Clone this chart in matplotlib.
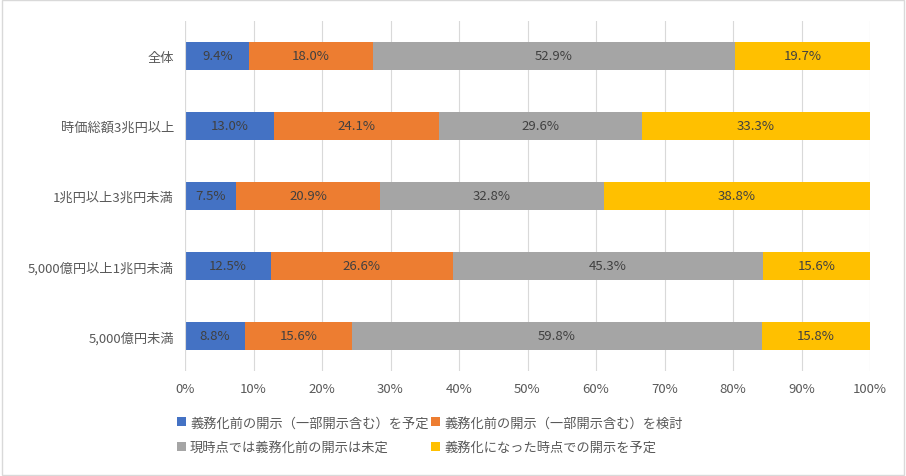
import numpy as np
import matplotlib.pyplot as plt

plt.rcParams["font.family"] = "Noto Sans CJK JP"

categories = ["全体", "時価総額3兆円以上", "1兆円以上3兆円未満", "5,000億円以上1兆円未満", "5,000億円未満"]
series_names = ["義務化前の開示（一部開示含む）を予定", "義務化前の開示（一部開示含む）を検討",
                "現時点では義務化前の開示は未定", "義務化になった時点での開示を予定"]
values = [
    [9.4, 13.0, 7.5, 12.5, 8.8],
    [18.0, 24.1, 20.9, 26.6, 15.6],
    [52.9, 29.6, 32.8, 45.3, 59.8],
    [19.7, 33.3, 38.8, 15.6, 15.8],
]
colors = ["#4472C4", "#ED7D31", "#A5A5A5", "#FFC000"]

fig = plt.figure(figsize=(9.06, 4.77), dpi=100)
ax = fig.add_axes([185 / 906, 1 - 372 / 477, 685 / 906, 350 / 477])
y = np.arange(len(categories))
left = np.zeros(len(categories))
for name, vals, c in zip(series_names, values, colors):
    vals = np.array(vals)
    ax.barh(y, vals / 100, left=left, height=0.4, color=c, label=name)
    for yi, l, v in zip(y, left, vals):
        ax.text(l + v / 200, yi, f"{v:.1f}%", ha="center", va="center", fontsize=9.5, color="#404040")
    left += vals / 100

ax.set_xlim(0, 1)
ax.set_ylim(len(categories) - 0.5, -0.5)
ax.set_yticks(y)
ax.set_yticklabels(categories, fontsize=9.5, color="#595959")
ax.set_xticks(np.arange(0, 1.01, 0.1))
ax.set_xticklabels([f"{int(t)}%" for t in np.arange(0, 101, 10)], fontsize=9.5, color="#595959")
ax.tick_params(length=0, pad=8)
ax.grid(axis="x", color="#D9D9D9", linewidth=0.8)
ax.set_axisbelow(True)
for s in ax.spines.values():
    s.set_visible(False)
ax.axvline(0, color="#D9D9D9", linewidth=0.8)

# legend fills row by row in the reference
h, l = ax.get_legend_handles_labels()
order = [0, 2, 1, 3]
fig.legend([h[i] for i in order], [l[i] for i in order], loc="lower left",
           bbox_to_anchor=(165 / 906, 10 / 477), ncol=2, frameon=False,
           fontsize=9.5, handlelength=0.7, handleheight=0.7, columnspacing=0.2,
           handletextpad=0.3, labelspacing=0.9, labelcolor="#595959")
fig.patches.append(plt.Rectangle((0.002, 0.002), 0.996, 0.996, transform=fig.transFigure,
                                 fill=False, edgecolor="#D9D9D9", linewidth=1))
fig.savefig("out.png")
